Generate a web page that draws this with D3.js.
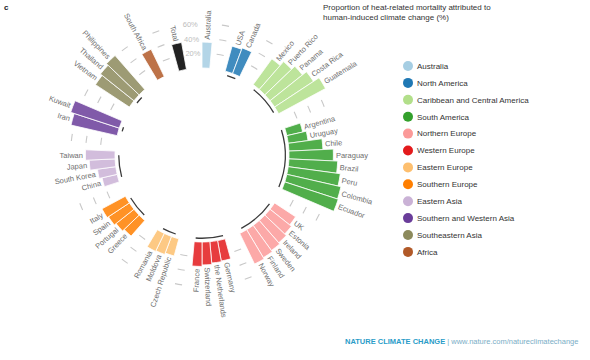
<!DOCTYPE html>
<html><head><meta charset="utf-8">
<script src="https://cdn.jsdelivr.net/npm/d3@7"></script>
<style>
body{margin:0;background:#fff}
svg{display:block}
text{font-family:"Liberation Sans",Arial,sans-serif}
</style>
</head><body>
<svg id="chart" width="590" height="360"></svg>
<script>
// ---------- data ----------
const regions = ["Australia","North America","Caribbean and Central America","South America",
  "Northern Europe","Western Europe","Eastern Europe","Southern Europe","Eastern Asia",
  "Southern and Western Asia","Southeastern Asia","Africa"];
const regionColors = ["#a6cee3","#1f78b4","#b2df8a","#33a02c","#fb9a99","#e31a1c",
  "#fdbf6f","#ff7f00","#cab2d6","#6a3d9a","#8c8a5c","#b15928"];
// black arc span (degrees) drawn inside each region group
const regionArcSpan = [0, 6, 21, 40, 26, 19, 9.5, 15, 15, 3, 5, 0];

const countries = ["Australia",
  "USA","Canada",
  "Mexico","Puerto Rico","Panama","Costa Rica","Guatemala",
  "Argentina","Uruguay","Chile","Paraguay","Brazil","Peru","Colombia","Ecuador",
  "UK","Estonia","Ireland","Sweden","Finland","Norway",
  "Germany","the Netherlands","Switzerland","France",
  "Czech Republic","Moldova","Romania",
  "Greece","Portugal","Spain","Italy",
  "China","South Korea","Japan","Taiwan",
  "Iran","Kuwait",
  "Vietnam","Thailand","Philippines",
  "South Africa",
  "Total"];
const countryRegion = [0, 1,1, 2,2,2,2,2, 3,3,3,3,3,3,3,3, 4,4,4,4,4,4, 5,5,5,5, 6,6,6,
  7,7,7,7, 8,8,8,8, 9,9, 10,10,10, 11, 12];
const values = [35,
  35,37,
  43,50,56,63,72,
  22,27,46,60,66,71,75,76,
  34,37,40,42,44,46,
  28,29,31,33,
  24,26,27,
  28,31,34,36,
  21,25,35,40,
  64,69,
  55,58,61,
  41,
  37];
const ticks = [20,40,60];
const tickLabels = ["20%","40%","60%"];
const totalColor = "#222222";

// ---------- layout ----------
const cx = 202, cy = 155, R0 = 87;
const GAP = 2; // slots per gap
const svg = d3.select("#chart");

// build slot positions
let slot = 0;
const bars = [];
const groups = [];
let prev = countryRegion[0];
let gStart = 0;
countries.forEach((c,i)=>{
  const g = countryRegion[i];
  if (i>0 && g!==prev){ groups.push({g:prev,start:gStart,end:slot}); slot += GAP; gStart = slot; }
  bars.push({name:c, v:values[i], g, slot});
  slot += 1; prev = g;
});
groups.push({g:prev,start:gStart,end:slot});
slot += GAP;
const totalSlots = slot;

const ang = d3.scaleLinear().domain([0,totalSlots]).range([0,2*Math.PI]);
const rad = d3.scaleLinear().domain([0,100]).range([R0, R0+74]);

const root = svg.append("g").attr("transform",`translate(${cx},${cy})`);

// gap dashes
const gaps = groups.map(gr=>gr.end + GAP/2);
const dashArc = d3.arc();
gaps.forEach((gc,k)=>{
  if (k===gaps.length-1) return;
  ticks.forEach(t=>{
    const r = rad(t), d = 3.6/r;
    root.append("path")
      .attr("d", dashArc({innerRadius:r-0.55,outerRadius:r+0.55,startAngle:ang(gc)-d,endAngle:ang(gc)+d}))
      .attr("fill","#c8c8c8");
  });
});
// tick labels in last gap
const lastGap = gaps[gaps.length-1];
ticks.forEach((t,i)=>{
  const a = ang(lastGap), r = rad(t);
  root.append("text")
    .attr("x", r*Math.sin(a)).attr("y", -r*Math.cos(a))
    .attr("dy","0.35em").attr("text-anchor","middle")
    .attr("font-size",7.5).attr("fill","#bdbdbd").text(tickLabels[i]);
});

// bars
const barArc = d3.arc().innerRadius(R0)
  .outerRadius(d=>rad(d.v))
  .startAngle(d=>ang(d.slot)).endAngle(d=>ang(d.slot+1));
root.selectAll("path.bar").data(bars).join("path").attr("class","bar")
  .attr("d", barArc)
  .attr("fill", d=> d.g===12 ? totalColor : regionColors[d.g])
  .attr("fill-opacity", d=> d.g===12 ? 1 : 0.85)
  .attr("stroke","#fff").attr("stroke-width",0.8);

// group arcs
groups.forEach(gr=>{
  const span = gr.g<12 ? regionArcSpan[gr.g] : 0;
  if (!span) return;
  const c = ang((gr.start+gr.end)/2), h = span/2*Math.PI/180;
  root.append("path")
    .attr("d", d3.arc()({innerRadius:82.6,outerRadius:83.9,startAngle:c-h,endAngle:c+h}))
    .attr("fill","#3a3a3a");
});

// labels
root.selectAll("text.lab").data(bars).join("text").attr("class","lab")
  .attr("font-size",7.5).attr("fill","#6e6e6e").attr("dy","0.35em")
  .attr("text-anchor", d=> ang(d.slot+0.5) > Math.PI ? "end" : "start")
  .attr("transform", d=>{
    const a = ang(d.slot+0.5)*180/Math.PI;
    const r = rad(d.v)+2.5;
    return `rotate(${a-90}) translate(${r},0)` + (a>180 ? " rotate(180)" : "");
  })
  .text(d=>d.name);

// title
svg.append("text").attr("x",323).attr("y",10).attr("font-size",8).attr("fill","#333")
  .text("Proportion of heat-related mortality attributed to");
svg.append("text").attr("x",323).attr("y",20).attr("font-size",8).attr("fill","#333")
  .text("human-induced climate change (%)");

// panel letter
svg.append("text").attr("x",4).attr("y",10).attr("font-size",8).attr("font-weight","bold")
  .attr("fill","#222").text("c");

// legend
const leg = svg.append("g");
regions.forEach((name,i)=>{
  const y = 66 + i*16.9;
  leg.append("circle").attr("cx",408).attr("cy",y).attr("r",5).attr("fill",regionColors[i]);
  leg.append("text").attr("x",417).attr("y",y).attr("dy","0.35em").attr("font-size",8)
    .attr("fill","#333").text(name);
});

// footer
const ft = svg.append("text").attr("x",345).attr("y",344).attr("font-size",7.5)
  .attr("font-family","'Open Sans',sans-serif");
ft.append("tspan").attr("font-weight","bold").attr("fill","#2a9cc8").text("NATURE CLIMATE CHANGE");
ft.append("tspan").attr("fill","#7aaec6").text(" | www.nature.com/natureclimatechange");
</script>
</body></html>
